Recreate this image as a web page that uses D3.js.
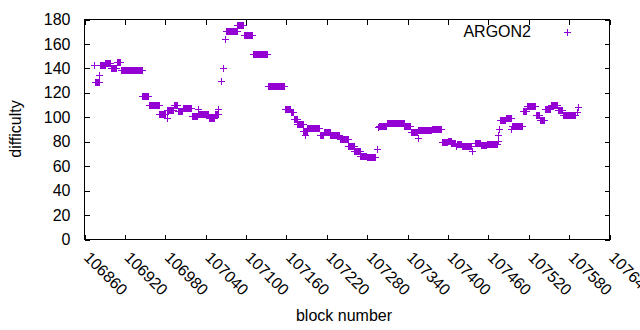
<!DOCTYPE html>
<html>
<head>
<meta charset="utf-8">
<script src="https://cdn.jsdelivr.net/npm/d3@7"></script>
<style>
  html, body { margin: 0; padding: 0; background: #fff; }
  svg { display: block; }
  text { font-family: "Liberation Sans", Arial, sans-serif; fill: #000; }
</style>
</head>
<body>
<svg id="chart" width="640" height="330"></svg>
<script>
// Runs of consecutive blocks sharing the same difficulty
const blockStart = [106874,106875,106882,106883,106891,106899,106908,106914,106946,106956,106971,106982,106983,106993,106999,107006,107019,107028,107029,107030,107045,107054,107059,107063,107066,107069,107070,107087,107097,107110,107132,107158,107167,107171,107176,107185,107187,107188,107191,107210,107216,107225,107239,107252,107261,107270,107279,107294,107296,107297,107309,107335,107345,107355,107356,107376,107391,107400,107405,107412,107413,107421,107436,107440,107449,107458,107474,107475,107476,107477,107486,107494,107495,107512,107517,107531,107536,107544,107553,107563,107571,107592,107593];
const blockEnd   = [106874,106881,106882,106890,106898,106907,106912,106945,106955,106970,106980,106982,106992,106998,107005,107018,107027,107028,107029,107044,107053,107058,107059,107063,107066,107069,107086,107096,107109,107131,107157,107166,107170,107175,107184,107186,107187,107190,107209,107215,107224,107238,107251,107260,107269,107278,107292,107294,107296,107308,107334,107344,107354,107355,107375,107390,107399,107404,107411,107412,107420,107434,107436,107448,107457,107473,107474,107475,107476,107485,107493,107494,107510,107516,107530,107535,107543,107552,107562,107570,107589,107592,107593];
const difficulty = [143,129,135,143,144,140.5,145.5,139,117.5,110,102.6,99.3,106,110,105,107.2,101.2,102.3,106.4,102.3,99.3,103,106.4,130,140,164,170.7,175.6,167.5,152,125.8,107,104,98.7,94.6,88.9,85.7,88.9,91.4,85.1,88.1,85.7,82.4,76.7,72.3,68.7,67.7,74.2,92,93.2,95.5,93,87.8,83.2,89.6,90.6,79.4,81,79.1,76.9,78.3,76.1,72.3,79.1,77.5,78.3,81,85.9,90.6,98,99.8,90.6,93,105.3,109.4,101.5,97.6,107,110.2,105.8,102,104.5,108.5];

const xTicks = [106860,106920,106980,107040,107100,107160,107220,107280,107340,107400,107460,107520,107580,107640];
const yTicks = [0,20,40,60,80,100,120,140,160,180];
const seriesName = "ARGON2";

// one point per block
const points = [];
blockStart.forEach((s, i) => {
  for (let b = s; b <= blockEnd[i]; b++) points.push({ block: b, value: difficulty[i] });
});

const svg = d3.select("#chart");
svg.append("rect").attr("width", 640).attr("height", 330).attr("fill", "#fff");

const L = 84.5, R = 609.5, T = 19.5, B = 239.5;
const x = d3.scaleLinear().domain([106860, 107640]).range([L, R]);
const y = d3.scaleLinear().domain([0, 180]).range([B, T]);
const color = "#9400d3";
const fs = 16;
const font = '"Liberation Sans", Arial, sans-serif';
const tick = 5;

// bottom axis
const gx = svg.append("g").attr("transform", `translate(0,${B})`)
  .call(d3.axisBottom(x).tickValues(xTicks).tickFormat(d3.format("d")).tickSizeInner(-tick).tickSizeOuter(0));
gx.select(".domain").remove();
gx.selectAll("line").attr("stroke", "#000").attr("shape-rendering", "crispEdges");
gx.selectAll("text")
  .attr("y", 0).attr("dy", null).attr("x", 0)
  .attr("text-anchor", "start")
  .attr("transform", "translate(-2,19) rotate(45)")
  .style("font-size", fs + "px").style("font-family", font).attr("fill", "#000");

// top mirror ticks
const gt = svg.append("g").attr("transform", `translate(0,${T})`)
  .call(d3.axisTop(x).tickValues(xTicks).tickFormat("").tickSizeInner(-tick).tickSizeOuter(0));
gt.select(".domain").remove();
gt.selectAll("line").attr("stroke", "#000").attr("shape-rendering", "crispEdges");

// left axis
const gy = svg.append("g").attr("transform", `translate(${L},0)`)
  .call(d3.axisLeft(y).tickValues(yTicks).tickSizeInner(-tick).tickSizeOuter(0).tickPadding(14));
gy.select(".domain").remove();
gy.selectAll("line").attr("stroke", "#000").attr("shape-rendering", "crispEdges");
gy.selectAll("text").style("font-size", fs + "px").style("font-family", font).attr("fill", "#000");

// right mirror ticks
const gr = svg.append("g").attr("transform", `translate(${R},0)`)
  .call(d3.axisRight(y).tickValues(yTicks).tickFormat("").tickSizeInner(-tick).tickSizeOuter(0));
gr.select(".domain").remove();
gr.selectAll("line").attr("stroke", "#000").attr("shape-rendering", "crispEdges");

// border
svg.append("rect").attr("x", L).attr("y", T).attr("width", R - L).attr("height", B - T)
  .attr("fill", "none").attr("stroke", "#000").attr("stroke-width", 1).attr("shape-rendering", "crispEdges");

// points as "+"
const plus = (cx, cy) => `M${cx - 3.5},${cy}H${cx + 3.5}M${cx},${cy - 3.5}V${cy + 3.5}`;
svg.append("path")
  .attr("d", points.map(p => plus(Math.round(x(p.block)) + 0.5, Math.round(y(p.value)) + 0.5)).join(""))
  .attr("stroke", color).attr("stroke-width", 1).attr("fill", "none");

// legend
svg.append("text").attr("x", 531).attr("y", 37).attr("text-anchor", "end")
  .style("font-size", fs + "px").text(seriesName);
svg.append("path").attr("d", plus(567.5, 32.5)).attr("stroke", color).attr("stroke-width", 1).attr("fill", "none");

// axis labels
svg.append("text").attr("x", 344).attr("y", 321).attr("text-anchor", "middle")
  .style("font-size", fs + "px").text("block number");
svg.append("text").attr("transform", "translate(21,129) rotate(-90)").attr("text-anchor", "middle")
  .style("font-size", fs + "px").text("difficulty");
</script>
</body>
</html>
